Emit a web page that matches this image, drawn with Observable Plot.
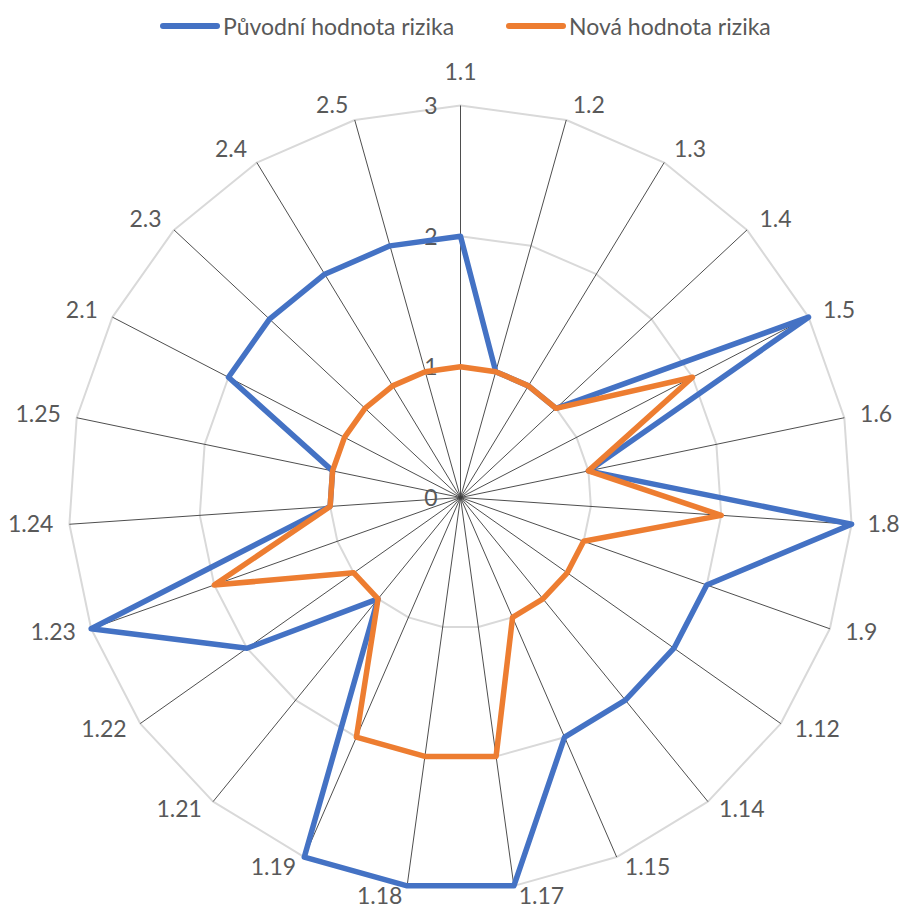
<!DOCTYPE html>
<html>
<head>
<meta charset="utf-8">
<script src="https://cdn.jsdelivr.net/npm/d3@7"></script>
<script src="https://cdn.jsdelivr.net/npm/@observablehq/plot@0.6"></script>
<style>
  html, body { margin: 0; padding: 0; background: #fff; }
  #legend { position: relative; width: 901px; height: 50px; font-family: Lato, "Liberation Sans", sans-serif; font-size: 23px; color: #595959; }
  .item { position: absolute; top: 12px; display: flex; align-items: center; white-space: nowrap; }
  .swatch { width: 60px; height: 6px; border-radius: 3px; margin-right: 3px; }
  #chart svg { display: block; }
</style>
</head>
<body>
<div id="legend"></div>
<div id="chart"></div>
<script>
// ---- data ----
const categories = ["1.1","1.2","1.3","1.4","1.5","1.6","1.8","1.9","1.12","1.14","1.15","1.17","1.18","1.19","1.21","1.22","1.23","1.24","1.25","2.1","2.3","2.4","2.5"];
const puvodniHodnota = [2,1,1,1,3,1,3,2,2,2,2,3,3,3,1,2,3,1,1,2,2,2,2];
const novaHodnota    = [1,1,1,1,2,1,2,1,1,1,1,2,2,2,1,1,2,1,1,1,1,1,1];
const seriesNames = ["Původní hodnota rizika", "Nová hodnota rizika"];
const seriesColors = ["#4472C4", "#ED7D31"];
const tickValues = [0, 1, 2, 3];
const gridLevels = [1, 2, 3];

// ---- layout ----
const W = 901, H = 860;
const ppu = 130.67;              // pixels per unit of risk value
const cx = 460, cy = 447;        // centre in SVG pixels
const xDomain = [-cx / ppu, (W - cx) / ppu];
const yDomain = [-(H - cy) / ppu, cy / ppu];
const N = categories.length;
const rMax = d3.max(tickValues);
const ang = i => 2 * Math.PI * i / N;
const FS = 23;

// legend
const legend = document.getElementById("legend");
const legendLeft = [160, 506];
seriesNames.forEach((name, k) => {
  const it = document.createElement("div");
  it.className = "item";
  it.style.left = legendLeft[k] + "px";
  it.innerHTML = `<span class="swatch" style="background:${seriesColors[k]}"></span><span>${name}</span>`;
  legend.appendChild(it);
});

// tables
const catTable = categories.map((c, i) => ({cat: c, i, s: Math.sin(ang(i)), c: Math.cos(ang(i))}));
const gridTable = gridLevels.flatMap(r => catTable.map(d => ({r, x: r * d.s, y: r * d.c})));
const seriesTable = [puvodniHodnota, novaHodnota].map((vals, k) =>
  vals.map((v, i) => ({series: seriesNames[k], cat: categories[i], v, x: v * catTable[i].s, y: v * catTable[i].c})));

// label placement (pixel offsets converted to data units)
const labelTable = catTable.map(d => {
  const anchor = Math.abs(d.s) < 0.05 ? "middle" : (d.s > 0 ? "start" : "end");
  const gx = anchor === "middle" ? 0 : Math.sign(d.s) * (3 + 13 * Math.abs(d.s));
  const gy = (d.c > 0 ? 15 : 11) * d.c + (anchor === "middle" && d.c > 0 ? 18 : 0) + (anchor === "middle" && d.c < 0 ? -18 : 0);
  return {...d, anchor, x: rMax * d.s + gx / ppu, y: rMax * d.c + gy / ppu};
});

const font = "Lato, 'Liberation Sans', sans-serif";

const plot = Plot.plot({
  width: W, height: H,
  margin: 0,
  x: {domain: xDomain, axis: null},
  y: {domain: yDomain, axis: null},
  style: {fontFamily: font, background: "white"},
  marks: [
    Plot.line(gridTable, {x: "x", y: "y", z: "r", curve: "linear-closed", stroke: "#d9d9d9", strokeWidth: 2}),
    Plot.link(catTable, {x1: 0, y1: 0, x2: d => rMax * d.s, y2: d => rMax * d.c, stroke: "#3a3a3a", strokeWidth: 0.9}),
    Plot.text(tickValues, {x: 0, y: d => d, text: d => String(d), textAnchor: "end", dx: -23, dy: 1, fill: "#595959", fontSize: FS}),
    ...seriesTable.map((tbl, k) =>
      Plot.line(tbl, {x: "x", y: "y", curve: "linear-closed", stroke: seriesColors[k], strokeWidth: 5.5, strokeLinejoin: "round"})),
    ...["start", "middle", "end"].map(a =>
      Plot.text(labelTable.filter(d => d.anchor === a), {x: "x", y: "y", text: "cat", textAnchor: a, fill: "#595959", fontSize: FS}))
  ]
});
document.getElementById("chart").appendChild(plot);
</script>
</body>
</html>
